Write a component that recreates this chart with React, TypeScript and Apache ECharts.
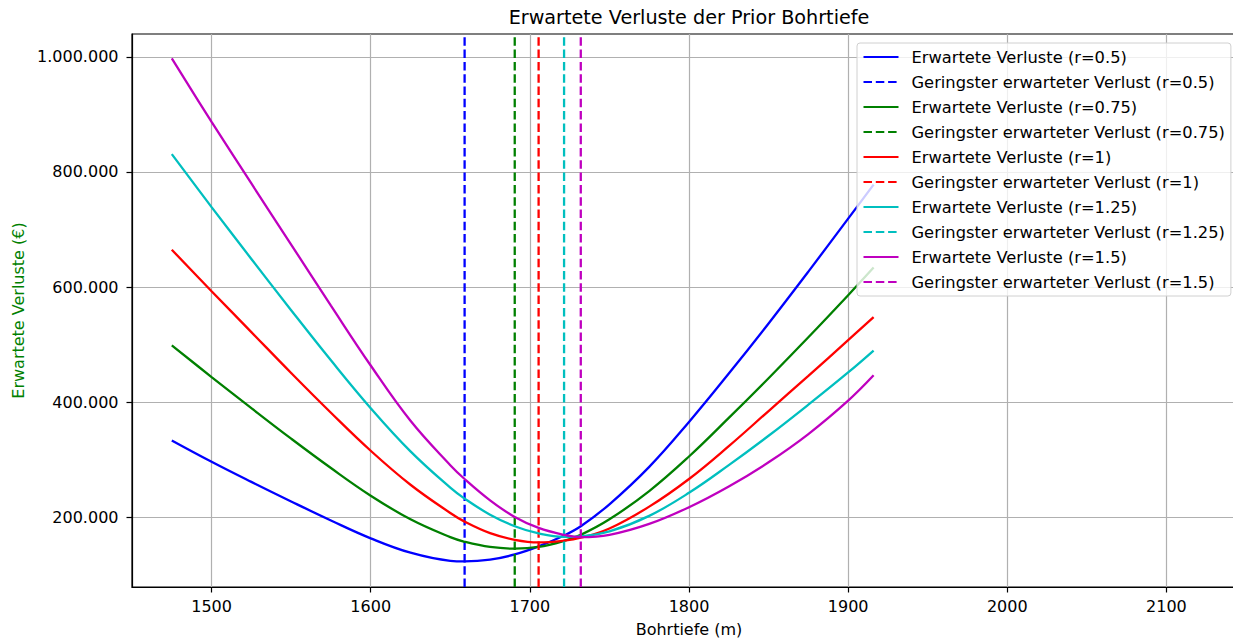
import React, { useEffect, useRef } from "react";
import * as echarts from "echarts";

// Drilling depths (m) at which the expected losses were evaluated
const depths = [1475, 1500, 1525, 1550, 1575, 1600, 1625, 1650, 1659, 1675, 1690.5, 1705.5, 1721.5, 1732, 1750, 1775, 1800, 1825, 1850, 1875, 1900, 1916];

// Expected losses in thousand € for each risk factor r
const lossR050 = [334, 297, 262, 228, 195, 164, 139, 125, 124, 127, 136, 150, 169, 185, 223, 288, 366, 450, 537, 627, 719, 778];
const lossR075 = [499, 444, 390, 337, 286, 238, 197, 166, 158, 149, 146, 149, 159.5, 170, 197, 246, 306, 373, 442, 513, 586, 634];
const lossR100 = [665, 593, 522, 451, 382, 316, 257, 208, 193, 173, 161.5, 157, 160, 165, 181, 219, 267, 324, 385, 446, 508, 548];
const lossR125 = [831, 739, 649, 560, 473, 390, 315, 252, 233, 205, 185, 172.5, 166.5, 167.5, 176, 203, 243, 291, 342, 396, 452, 490];
const lossR150 = [997, 887, 780, 674, 568, 464, 368, 291, 267, 230, 201, 182, 170, 166, 170, 189, 218, 254, 296, 345, 403, 447];

const riskFactors = ["0.5", "0.75", "1", "1.25", "1.5"];
const lossSeries = [lossR050, lossR075, lossR100, lossR125, lossR150];
// Depth of the lowest expected loss per risk factor (m)
const optimalDepths = [1659, 1690.5, 1705.5, 1721.5, 1732];
const colors = ["#0000ff", "#008000", "#ff0000", "#00bfbf", "#bf00bf"];

// Tick positions
const depthTicks = [1500, 1600, 1700, 1800, 1900, 2000, 2100];
const lossTicks = [200000, 400000, 600000, 800000, 1000000];

const X_MIN = 1450;
const X_MAX = 2150;
const Y_MIN = 79500;
const Y_MAX = 1039500;

const FONT = "DejaVu Sans";
const FS = 16;

const formatThousands = (v: number) =>
  String(Math.round(v)).replace(/\B(?=(\d{3})+(?!\d))/g, ".");

export default function App() {
  const ref = useRef<HTMLDivElement>(null);

  useEffect(() => {
    if (!ref.current) return;
    const chart = echarts.init(ref.current, undefined, { renderer: "svg" });

    const series: any[] = [];
    riskFactors.forEach((r, i) => {
      series.push({
        name: `Erwartete Verluste (r=${r})`,
        type: "line",
        data: depths.map((d, j) => [d, lossSeries[i][j] * 1000]),
        symbol: "none",
        smooth: 0.4,
        color: colors[i],
        lineStyle: { color: colors[i], width: 2.3 },
        emphasis: { disabled: true },
        silent: true,
      });
      series.push({
        name: `Geringster erwarteter Verlust (r=${r})`,
        type: "line",
        data: [
          [optimalDepths[i], Y_MIN],
          [optimalDepths[i], Y_MAX],
        ],
        symbol: "none",
        color: colors[i],
        lineStyle: { color: colors[i], width: 2.3, type: [8.5, 3.8] },
        emphasis: { disabled: true },
        silent: true,
      });
    });

    chart.setOption({
      animation: false,
      backgroundColor: "#ffffff",
      textStyle: { fontFamily: FONT },
      title: {
        text: "Erwartete Verluste der Prior Bohrtiefe",
        left: 689,
        top: 8,
        padding: 0,
        textAlign: "center",
        textStyle: {
          fontFamily: FONT,
          fontSize: 19.2,
          fontWeight: "normal",
          color: "#000",
        },
      },
      grid: {
        left: 132,
        top: 34,
        right: -13,
        bottom: 53,
        containLabel: false,
        outerBoundsMode: "none",
        show: true,
        borderColor: "#000",
        borderWidth: 1.2,
        backgroundColor: "transparent",
      },
      legend: {
        orient: "vertical",
        left: 857,
        top: 43,
        padding: [6, 6, 6, 5.5],
        itemWidth: 35,
        itemHeight: 14,
        itemGap: 9,
        itemStyle: { opacity: 0, borderWidth: 0 },
        backgroundColor: "rgba(255,255,255,0.8)",
        borderColor: "#d0d0d0",
        borderWidth: 1,
        borderRadius: 3,
        selectedMode: false,
        textStyle: {
          fontFamily: FONT,
          fontSize: 16.3,
          color: "#000",
          lineHeight: 16,
          padding: [0, 0, 0, 8],
        },
        data: series.map((s) => s.name),
      },
      xAxis: {
        type: "value",
        min: X_MIN,
        max: X_MAX,
        minInterval: 100,
        maxInterval: 100,
        name: "Bohrtiefe (m)",
        nameLocation: "middle",
        nameGap: 34,
        nameTextStyle: { fontFamily: FONT, fontSize: FS, color: "#000" },
        axisLine: { show: true, lineStyle: { color: "#000", width: 1.2 } },
        axisTick: {
          show: true,
          length: 5.5,
          customValues: depthTicks,
          lineStyle: { color: "#000", width: 1.2 },
        },
        axisLabel: {
          fontFamily: FONT,
          fontSize: FS,
          color: "#000",
          margin: 11,
          customValues: depthTicks,
          formatter: (v: number) => String(v),
        },
        splitLine: { show: true, lineStyle: { color: "#b0b0b0", width: 1.2 } },
      },
      yAxis: {
        type: "value",
        min: Y_MIN,
        max: Y_MAX,
        minInterval: 200000,
        maxInterval: 200000,
        name: "Erwartete Verluste (€)",
        nameLocation: "middle",
        nameGap: 106,
        nameTextStyle: { fontFamily: FONT, fontSize: FS, color: "#008000" },
        axisLine: { show: true, lineStyle: { color: "#000", width: 1.2 } },
        axisTick: {
          show: true,
          length: 5.5,
          customValues: lossTicks,
          lineStyle: { color: "#000", width: 1.2 },
        },
        axisLabel: {
          fontFamily: FONT,
          fontSize: FS,
          color: "#000",
          margin: 13.5,
          customValues: lossTicks,
          formatter: (v: number) => formatThousands(v),
        },
        splitLine: { show: true, lineStyle: { color: "#b0b0b0", width: 1.2 } },
      },
      series,
    });

    return () => chart.dispose();
  }, []);

  return (
    <div
      ref={ref}
      style={{ position: "fixed", left: 0, top: 0, width: 1233, height: 640 }}
    />
  );
}
